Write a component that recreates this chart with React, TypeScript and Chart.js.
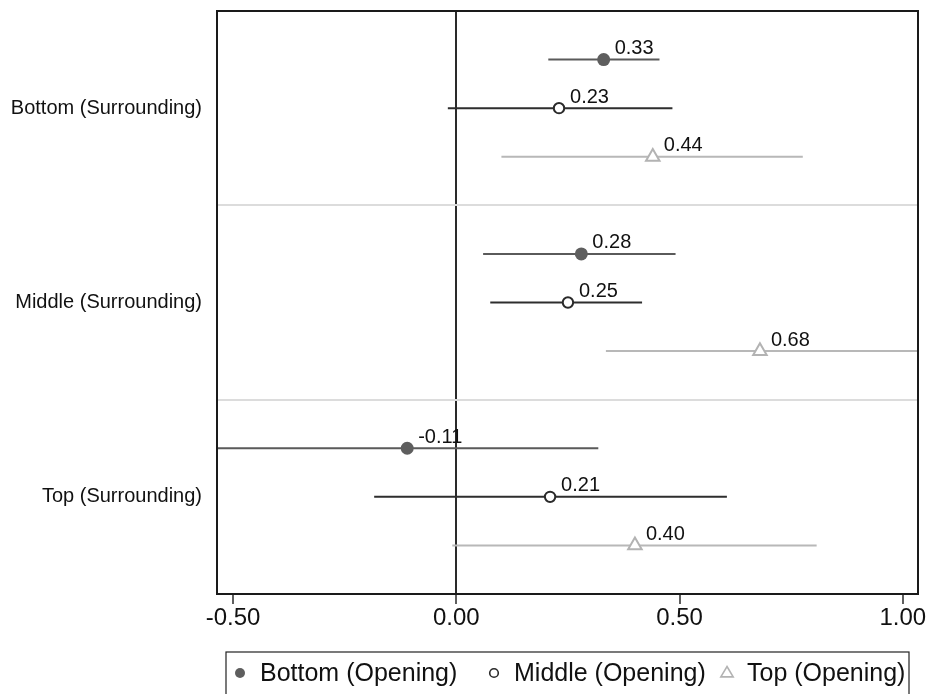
import React, { useEffect, useRef } from "react";
import { Chart, registerables } from "chart.js";

Chart.register(...registerables);

// ---- data ----
const categories = ["Bottom (Surrounding)", "Middle (Surrounding)", "Top (Surrounding)"];
const seriesNames = ["Bottom (Opening)", "Middle (Opening)", "Top (Opening)"];
// estimates per series, in category order
const bottomEst = [0.33, 0.28, -0.11];
const middleEst = [0.23, 0.25, 0.21];
const topEst = [0.44, 0.68, 0.40];
// confidence interval bounds
const bottomLo = [0.206, 0.06, -0.6];
const bottomHi = [0.455, 0.491, 0.318];
const middleLo = [-0.019, 0.076, -0.184];
const middleHi = [0.484, 0.416, 0.606];
const topLo = [0.101, 0.335, -0.009];
const topHi = [0.776, 1.08, 0.807];
// row positions (1..11, separators at 4 and 8)
const categoryRows = [2, 6, 10];
const separatorRows = [4, 8];
const xTicks = [-0.5, 0, 0.5, 1.0];
const xMin = -0.536;
const xMax = 1.034;

const colors = ["#5e5e5e", "#2a2a2a", "#b3b3b3"];
const lineColors = ["#5a5a5a", "#2e2e2e", "#b8b8b8"];
const pointStyles = ["circle", "circle", "triangle"];
const pointFill = ["#5e5e5e", "#ffffff", "#ffffff"];
const pointRadius = [6.5, 5.2, 7.8];
const seriesEst = [bottomEst, middleEst, topEst];
const seriesLo = [bottomLo, middleLo, topLo];
const seriesHi = [bottomHi, middleHi, topHi];

const FONT = "'Liberation Sans', Arial, Helvetica, sans-serif";

export default function App() {
  const ref = useRef<HTMLCanvasElement>(null);

  useEffect(() => {
    if (!ref.current) return;
    const datasets: any[] = [];
    seriesNames.forEach((name, s) => {
      datasets.push({
        type: "scatter",
        label: name,
        data: categoryRows.map((r, i) => ({ x: seriesEst[s][i], y: r - 1 + s })),
        pointStyle: pointStyles[s],
        pointRadius: pointRadius[s],
        pointHoverRadius: pointRadius[s],
        pointBackgroundColor: pointFill[s],
        pointBorderColor: colors[s],
        pointBorderWidth: s === 0 ? 0 : 2,
        showLine: false,
        order: 0,
      });
    });
    seriesNames.forEach((name, s) => {
      const pts: any[] = [];
      categoryRows.forEach((r, i) => {
        pts.push({ x: seriesLo[s][i], y: r - 1 + s });
        pts.push({ x: seriesHi[s][i], y: r - 1 + s });
        pts.push({ x: null, y: null });
      });
      datasets.push({
        type: "line",
        label: name + " CI",
        data: pts,
        borderColor: lineColors[s],
        borderWidth: 2,
        pointRadius: 0,
        spanGaps: false,
        clip: 0,
        order: 1,
      });
    });

    const frame = {
      id: "frame",
      afterDatasetsDraw(chart: any) {
        const { ctx, chartArea: a } = chart;
        ctx.save();
        // value labels
        ctx.font = `20px ${FONT}`;
        ctx.fillStyle = "#111";
        ctx.textAlign = "left";
        ctx.textBaseline = "alphabetic";
        const xs = chart.scales.x;
        const ys = chart.scales.y;
        seriesNames.forEach((_, s) => {
          categoryRows.forEach((r, i) => {
            const v = seriesEst[s][i];
            const px = xs.getPixelForValue(v);
            const py = ys.getPixelForValue(r - 1 + s);
            ctx.fillText(v.toFixed(2), px + 11, py - 5.5);
          });
        });
        // frame
        ctx.strokeStyle = "#1a1a1a";
        ctx.lineWidth = 2;
        ctx.strokeRect(a.left, a.top, a.right - a.left, a.bottom - a.top);
        // legend
        const lx0 = 226, lx1 = 909, ly0 = 652, ly1 = 700;
        ctx.lineWidth = 1.2;
        ctx.strokeStyle = "#222";
        ctx.strokeRect(lx0, ly0, lx1 - lx0, ly1 - ly0);
        const markerX = [240, 494, 727];
        const cy = 673;
        ctx.font = `25px ${FONT}`;
        ctx.textBaseline = "middle";
        seriesNames.forEach((name, s) => {
          const mx = markerX[s];
          ctx.beginPath();
          if (pointStyles[s] === "triangle") {
            const r = 6.5;
            ctx.moveTo(mx, cy - r);
            ctx.lineTo(mx + r * 0.95, cy + r * 0.6);
            ctx.lineTo(mx - r * 0.95, cy + r * 0.6);
            ctx.closePath();
          } else {
            ctx.arc(mx, cy, s === 0 ? 5 : 4.3, 0, Math.PI * 2);
          }
          if (s === 0) {
            ctx.fillStyle = colors[s];
            ctx.fill();
          } else {
            ctx.fillStyle = "#fff";
            ctx.fill();
            ctx.strokeStyle = colors[s];
            ctx.lineWidth = 1.6;
            ctx.stroke();
          }
          ctx.fillStyle = "#111";
          ctx.fillText(name, mx + 20, cy + 1);
        });
        ctx.restore();
      },
    };

    const chart = new Chart(ref.current, {
      type: "scatter",
      data: { datasets },
      options: {
        animation: false,
        responsive: false,
        maintainAspectRatio: false,
        layout: { padding: { left: 0, top: 11, right: 12, bottom: 60 } },
        plugins: { legend: { display: false }, tooltip: { enabled: false } },
        scales: {
          x: {
            type: "linear",
            min: xMin,
            max: xMax,
            afterBuildTicks: (scale: any) => {
              scale.ticks = xTicks.map((v) => ({ value: v }));
            },
            afterFit: (scale: any) => {
              scale.height = 40;
              scale.paddingLeft = 0;
              scale.paddingRight = 0;
            },
            ticks: {
              callback: (v: any) => Number(v).toFixed(2),
              font: { size: 24, family: FONT },
              color: "#111",
              padding: 0,
              maxRotation: 0,
              autoSkip: false,
            },
            grid: {
              drawOnChartArea: true,
              color: (c: any) => (c.tick && c.tick.value === 0 ? "#2a2a2a" : "rgba(0,0,0,0)"),
              lineWidth: 2,
              drawTicks: true,
              tickLength: 10,
              tickColor: "#2a2a2a",
              tickWidth: 1.5,
            },
            border: { display: true, color: "#1a1a1a", width: 2 },
          },
          y: {
            type: "linear",
            min: 0,
            max: 12,
            reverse: true,
            afterBuildTicks: (scale: any) => {
              const vals = [...categoryRows, ...separatorRows].sort((a, b) => a - b);
              scale.ticks = vals.map((v) => ({ value: v }));
            },
            afterFit: (scale: any) => {
              scale.width = 217;
              scale.paddingTop = 0;
              scale.paddingBottom = 0;
            },
            ticks: {
              callback: (v: any) => {
                const idx = categoryRows.indexOf(Number(v));
                return idx >= 0 ? categories[idx] : "";
              },
              font: { size: 20, family: FONT },
              color: "#111",
              padding: 15,
              autoSkip: false,
            },
            grid: {
              drawTicks: false,
              color: (c: any) =>
                c.tick && separatorRows.includes(c.tick.value) ? "#dcdcdc" : "rgba(0,0,0,0)",
              lineWidth: 2,
            },
            border: { display: true, color: "#1a1a1a", width: 2 },
          },
        },
      },
      plugins: [frame],
    });
    return () => chart.destroy();
  }, []);

  return (
    <div style={{ position: "absolute", left: 0, top: 0, width: 930, height: 694, background: "#fff" }}>
      <canvas ref={ref} width={930} height={694} style={{ display: "block" }} />
    </div>
  );
}
